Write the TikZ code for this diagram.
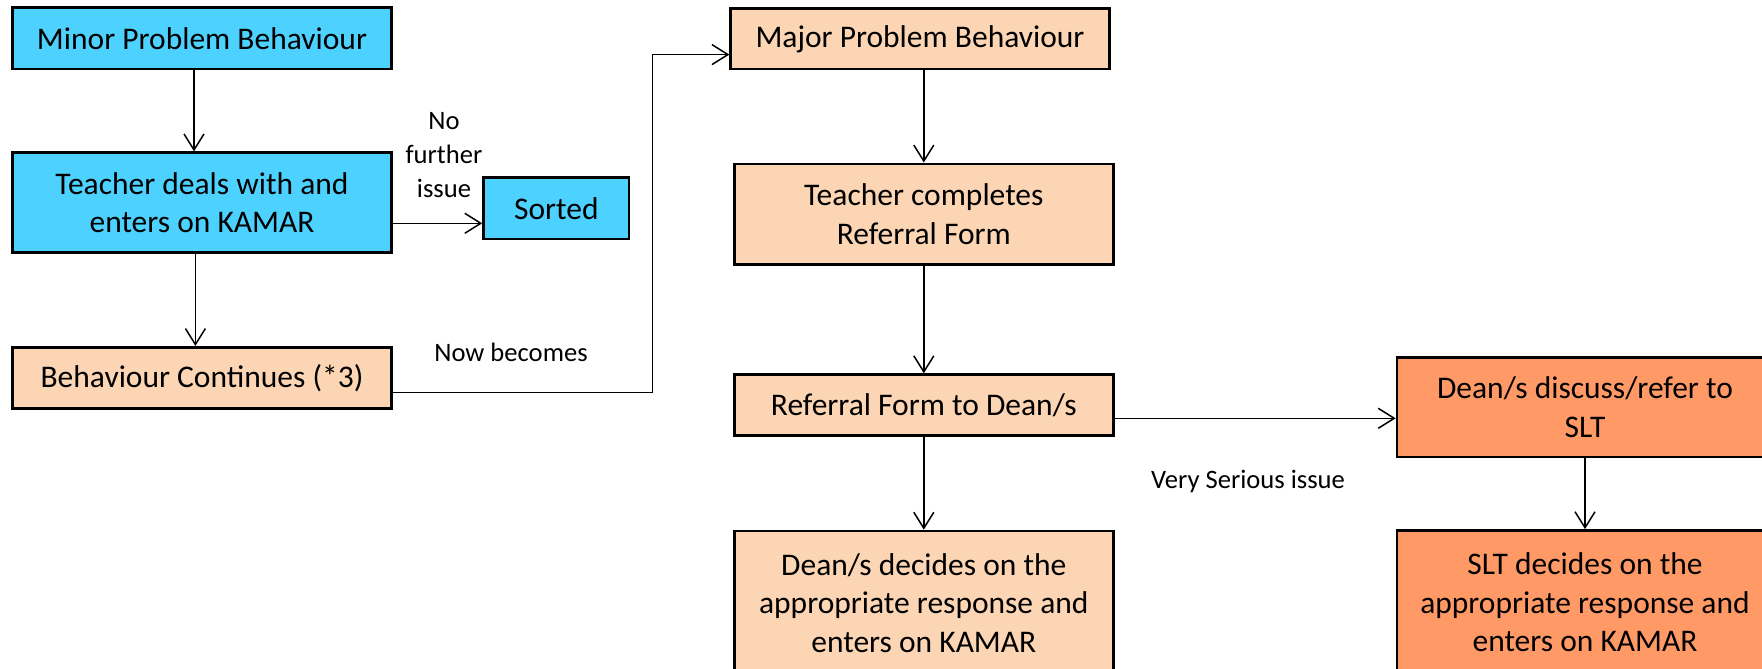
\documentclass[tikz,border=0pt]{standalone}
\usepackage{fontspec}
\setmainfont{Carlito}
\usetikzlibrary{arrows.meta,calc}
\definecolor{cblue}{HTML}{4DD2FF}
\definecolor{cpeach}{HTML}{FCD5B4}
\definecolor{corange}{HTML}{FF9966}
\begin{document}
\begin{tikzpicture}[x=0.5pt,y=-0.5pt,
  box/.style={draw=black,line width=1.35pt,inner sep=0pt,align=center,
    font=\fontsize{15.75}{19.2}\selectfont},
  arr/.style={-{Straight Barb[length=8pt,width=10pt]},line width=0.75pt},
  lbl/.style={font=\fontsize{13.3}{16.5}\selectfont,align=center,inner sep=0pt}]
\useasboundingbox (0,0) rectangle (1762,669);
\clip (0,0) rectangle (1762,669);
% left column
\node[box,fill=cblue,minimum width=189.5pt,minimum height=30.85pt] (minor) at (202,38.2) {Minor Problem Behaviour};
\node[box,fill=cblue,minimum width=189.5pt,minimum height=50pt] (teach) at (202,202.7) {Teacher deals with and\\enters on KAMAR};
\node[box,fill=cblue,minimum width=72.75pt,minimum height=30.65pt] (sorted) at (556.3,208.3) {Sorted};
\node[box,fill=cpeach,minimum width=189.5pt,minimum height=30.5pt] (cont) at (202,377.8) {Behaviour Continues (*3)};
% middle column
\node[box,fill=cpeach,minimum width=189.3pt,minimum height=30.3pt] (major) at (920,38.8) {Major Problem Behaviour};
\node[box,fill=cpeach,minimum width=189.5pt,minimum height=50.35pt] (tcomp) at (923.8,214.2) {Teacher completes\\Referral Form};
\node[box,fill=cpeach,minimum width=189.5pt,minimum height=30.3pt] (ref) at (923.8,404.9) {Referral Form to Dean/s};
\node[box,fill=cpeach,minimum width=189.5pt,minimum height=72pt] (dean) at (923.8,603) {Dean/s decides on the\\appropriate response and\\enters on KAMAR};
% right column
\node[box,fill=corange,minimum width=188pt,minimum height=49.85pt] (disc) at (1585,407.2) {Dean/s discuss/refer to\\SLT};
\node[box,fill=corange,minimum width=188pt,minimum height=72pt] (slt) at (1585,602.5) {SLT decides on the\\appropriate response and\\enters on KAMAR};
% labels
\node[lbl,font=\fontsize{13.3}{17}\selectfont] (lno) at (444,155) {No\\further\\issue};
\node[lbl] (lnow) at (511,352) {Now becomes};
\node[lbl] (lvery) at (1248,481.5) {Very Serious issue};
% connectors
\draw[arr] ([xshift=-4pt]minor.south) -- ([xshift=-4pt]teach.north);
\draw[arr] ([yshift=-10.3pt]teach.east) -- ([yshift=-10.3pt]teach.east -| sorted.west);
\draw[arr] ([xshift=-3.3pt]teach.south) -- ([xshift=-3.3pt]cont.north);
\draw[arr] ([yshift=-7.25pt]cont.east) -- ++(259.5,0) |- ([yshift=-7.9pt]major.west);
\draw[arr] (tcomp.north |- major.south) -- (tcomp.north);
\draw[arr] (tcomp.south) -- (ref.north);
\draw[arr] (ref.south) -- (dean.north);
\draw[arr] ([yshift=-6.7pt]ref.east) -- ([yshift=-6.7pt]ref.east -| disc.west);
\draw[arr] (disc.south) -- (slt.north);
\end{tikzpicture}
\end{document}
